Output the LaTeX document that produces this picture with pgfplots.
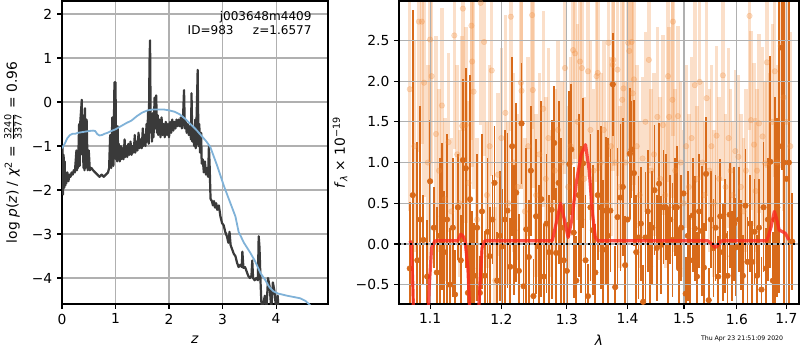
\documentclass[border=0pt]{standalone}
\usepackage{fontspec}
\setmainfont{DejaVu Sans}
\usepackage{pgfplots}
\pgfplotsset{compat=1.18}
\usepackage{pgfplotstable}
\definecolor{darkor}{RGB}{216,106,26}
\definecolor{lightor}{RGB}{240,140,60}
\definecolor{gridc}{RGB}{176,176,176}
\definecolor{blk}{RGB}{58,58,58}
\definecolor{blu}{RGB}{128,178,216}
\definecolor{redm}{RGB}{250,40,30}

\pgfplotstableread{
x y
0.00 -2.05
0.01 -1.00
0.02 -2.10
0.03 -1.20
0.04 -1.95
0.05 -1.35
0.06 -1.90
0.07 -1.75
0.08 -1.85
0.10 -1.60
0.12 -1.80
0.14 -1.65
0.16 -1.70
0.18 -1.60
0.20 -1.65
0.22 -1.55
0.24 -1.60
0.27 -1.10
0.28 -1.55
0.29 -1.20
0.30 -1.50
0.32 -0.50
0.33 -1.45
0.34 -0.48
0.37 0.05
0.38 -1.20
0.39 -0.30
0.40 -1.50
0.41 -0.90
0.42 -1.55
0.43 -0.14
0.44 -1.50
0.46 -0.40
0.48 -1.55
0.50 -1.10
0.52 -1.55
0.55 -1.50
0.58 -1.55
0.62 -1.60
0.66 -1.65
0.70 -1.70
0.74 -1.65
0.78 -1.70
0.82 -1.65
0.86 -1.60
0.88 -1.50
0.90 -0.75
0.92 -1.50
0.94 -0.35
0.96 -1.45
0.98 0.45
0.99 -0.60
1.00 0.45
1.01 -1.30
1.02 -0.90
1.03 -1.35
1.04 -0.55
1.05 -1.30
1.06 -0.95
1.08 -1.35
1.10 -1.00
1.11 -1.30
1.13 -1.05
1.15 -1.30
1.17 -0.85
1.18 -1.25
1.20 -1.00
1.22 -1.25
1.24 -0.95
1.26 -1.20
1.28 -0.90
1.30 -1.20
1.32 -1.00
1.34 -1.15
1.36 -0.75
1.37 -1.15
1.39 -0.90
1.41 -1.10
1.43 -0.70
1.45 -1.05
1.47 -0.85
1.49 -1.05
1.51 -0.60
1.52 -1.00
1.54 -0.75
1.56 -1.00
1.58 -0.50
1.59 -0.90
1.61 -0.20
1.62 -0.95
1.635 0.90
1.645 1.40
1.655 -0.20
1.66 -0.70
1.67 -0.30
1.68 -0.90
1.70 -0.25
1.71 -0.80
1.73 0.10
1.745 -0.60
1.76 0.15
1.775 -0.70
1.79 -0.30
1.80 -0.75
1.82 -0.40
1.84 -0.80
1.86 -0.35
1.88 -0.75
1.90 -0.50
1.92 -0.80
1.94 -0.45
1.96 -0.75
1.98 -0.50
2.00 -0.80
2.02 -0.45
2.04 -0.70
2.06 -0.40
2.08 -0.65
2.10 -0.45
2.12 -0.60
2.14 -0.40
2.16 -0.55
2.18 -0.40
2.20 -0.55
2.22 -0.35
2.24 -0.60
2.26 -0.40
2.28 0.27
2.295 -0.60
2.31 -0.45
2.33 -0.70
2.35 -0.50
2.37 -0.75
2.39 -0.55
2.41 -0.85
2.42 0.20
2.435 -0.90
2.45 -0.60
2.47 -1.00
2.49 -0.40
2.50 -1.05
2.52 -0.10
2.535 0.73
2.55 -1.00
2.565 -0.50
2.58 -1.15
2.60 -0.70
2.61 -1.40
2.63 -1.30
2.65 -1.60
2.67 -1.35
2.69 -1.65
2.71 -1.50
2.73 -1.70
2.745 -1.00
2.76 -1.50
2.775 -2.20
2.80 -2.25
2.82 -2.35
2.84 -2.25
2.86 -2.40
2.88 -2.30
2.90 -2.45
2.93 -2.35
2.96 -2.60
2.99 -2.75
3.02 -2.80
3.05 -2.95
3.08 -3.05
3.11 -3.20
3.13 -2.95
3.15 -3.25
3.18 -3.35
3.21 -3.45
3.24 -3.50
3.27 -3.65
3.30 -3.75
3.33 -3.70
3.36 -3.75
3.37 -3.40
3.39 -3.77
3.42 -3.75
3.45 -3.85
3.48 -3.95
3.51 -4.00
3.54 -3.95
3.555 -3.60
3.57 -4.00
3.60 -4.05
3.63 -4.00
3.66 -4.05
3.675 -3.05
3.69 -3.30
3.71 -4.10
3.73 -4.70
3.76 -4.60
3.79 -4.40
3.82 -4.70
3.85 -4.00
3.88 -4.20
3.91 -4.70
3.94 -4.10
3.97 -4.30
4.00 -4.70
4.03 -4.40
4.05 -4.80
}\pzdata

\pgfplotstableread{
x y
0.00 -1.05
0.05 -0.95
0.10 -0.82
0.15 -0.75
0.20 -0.72
0.25 -0.72
0.30 -0.70
0.40 -0.68
0.50 -0.66
0.58 -0.65
0.62 -0.66
0.66 -0.73
0.70 -0.76
0.75 -0.75
0.80 -0.72
0.85 -0.70
0.90 -0.67
1.00 -0.62
1.10 -0.55
1.20 -0.48
1.30 -0.42
1.40 -0.32
1.50 -0.24
1.60 -0.19
1.70 -0.17
1.80 -0.17
1.90 -0.17
2.00 -0.19
2.10 -0.22
2.20 -0.28
2.30 -0.38
2.40 -0.50
2.50 -0.62
2.60 -0.76
2.70 -0.90
2.77 -1.02
2.90 -1.45
3.02 -1.89
3.10 -2.15
3.24 -2.60
3.30 -2.95
3.40 -3.20
3.52 -3.43
3.60 -3.60
3.71 -3.89
3.80 -4.05
3.87 -4.20
3.95 -4.30
4.03 -4.35
4.20 -4.40
4.45 -4.46
4.55 -4.52
4.62 -4.60
4.70 -4.70
}\pzfit

\pgfplotstableread{
x y e
1.073 -0.30 0.82
1.077 0.60 2.27
1.083 -0.20 1.45
1.087 0.30 1.40
1.091 0.05 0.55
1.096 -0.40 0.70
1.100 0.77 0.75
1.105 0.20 0.50
1.109 -0.35 0.80
1.113 0.10 0.95
1.116 0.34 0.90
1.119 -0.10 0.75
1.123 0.30 1.05
1.127 -0.50 0.70
1.131 0.20 0.85
1.134 -0.62 0.55
1.138 0.45 0.65
1.142 -0.20 0.55
1.145 1.03 1.00
1.149 0.93 1.23
1.152 -0.60 0.60
1.155 0.55 1.52
1.158 -0.30 0.70
1.161 -0.39 0.65
1.165 0.20 0.90
1.169 -0.60 0.45
1.172 0.40 0.95
1.176 -0.39 0.55
1.180 0.15 0.90
1.183 -0.15 0.60
1.187 0.30 0.55
1.190 0.75 0.70
1.194 -0.45 0.60
1.198 0.10 0.80
1.201 -0.03 0.70
1.205 0.30 1.10
1.209 0.41 0.95
1.213 -0.28 0.60
1.216 1.20 1.10
1.219 0.17 0.80
1.222 0.63 1.10
1.226 -0.33 0.70
1.230 1.48 0.74
1.233 -0.52 0.50
1.237 0.18 1.00
1.241 -0.16 0.70
1.244 0.90 0.80
1.248 -0.64 0.45
1.252 0.34 0.95
1.256 -0.03 0.75
1.260 0.55 1.20
1.264 -0.40 0.65
1.268 0.25 0.85
1.272 -0.10 0.70
1.276 0.42 1.10
1.280 1.24 0.70
1.283 -0.11 0.80
1.287 0.75 1.00
1.291 0.20 1.10
1.295 -0.20 0.70
1.300 -0.33 0.60
1.304 0.98 0.90
1.307 1.16 0.80
1.311 0.14 0.80
1.315 -0.45 0.55
1.319 0.60 1.00
1.323 0.30 0.90
1.326 0.99 0.80
1.330 -0.20 0.80
1.334 -0.64 0.40
1.338 0.45 0.90
1.342 0.17 0.80
1.346 -0.35 0.60
1.350 0.60 0.80
1.355 0.45 1.00
1.359 -0.07 0.85
1.363 0.41 0.90
1.367 0.10 1.20
1.371 0.41 0.75
1.375 1.96 0.63
1.379 -0.53 0.50
1.383 0.33 0.85
1.388 0.57 0.90
1.392 0.70 0.85
1.396 -0.26 0.60
1.400 0.30 0.75
1.404 1.11 0.80
1.407 1.16 0.60
1.411 0.87 0.90
1.415 -0.10 0.70
1.419 0.08 0.75
1.423 0.25 0.70
1.427 -0.71 0.45
1.431 0.08 0.80
1.435 0.40 0.75
1.439 -0.28 0.55
1.443 0.20 0.70
1.447 0.66 0.80
1.451 -0.05 0.65
1.455 0.74 0.75
1.459 -0.01 0.60
1.463 0.45 0.70
1.467 0.45 0.65
1.471 -0.14 0.60
1.475 0.30 0.55
1.479 0.05 0.70
1.483 0.45 0.60
1.487 0.45 0.75
1.491 -0.30 0.50
1.495 0.20 0.65
1.499 0.62 0.70
1.503 -0.61 0.45
1.507 0.10 0.80
1.511 -0.20 0.55
1.516 0.35 0.70
1.520 0.19 0.65
1.524 -0.40 0.55
1.528 0.40 0.70
1.533 0.16 0.80
1.537 -0.29 0.55
1.541 0.86 0.70
1.546 -0.69 0.40
1.550 0.30 0.60
1.555 -0.05 0.60
1.559 0.20 0.65
1.564 -0.40 0.50
1.568 0.34 0.70
1.573 -0.10 0.60
1.577 0.10 0.70
1.582 -0.39 0.55
1.586 0.36 0.65
1.590 -0.15 0.55
1.595 0.25 0.70
1.599 -0.04 0.60
1.604 0.30 0.65
1.608 -0.01 0.55
1.612 -0.39 0.50
1.617 0.47 0.70
1.621 -0.22 0.55
1.626 0.25 0.60
1.630 -0.22 0.50
1.635 0.15 0.65
1.640 -0.39 0.50
1.644 0.20 0.60
1.649 -0.56 0.40
1.653 0.45 0.80
1.658 -0.30 0.50
1.662 0.30 0.75
1.667 1.01 1.30
1.672 -0.45 0.60
1.676 0.30 1.50
1.681 0.45 1.10
1.685 1.20 1.80
1.690 2.41 1.50
1.695 1.00 2.20
1.700 0.80 2.50
1.705 1.00 2.50
1.712 0.03 0.60
}\darkdata

\pgfplotstableread{
x y e
1.073 1.90 1.50
1.079 1.20 1.30
1.085 2.73 1.60
1.089 2.73 1.50
1.092 1.98 1.40
1.097 1.00 1.20
1.100 2.51 1.50
1.102 2.06 1.30
1.108 1.35 1.20
1.112 0.90 1.00
1.116 1.70 1.20
1.120 0.55 1.00
1.125 1.25 1.10
1.129 0.40 0.90
1.133 2.56 1.40
1.137 1.10 1.10
1.140 0.50 0.90
1.144 1.45 1.10
1.145 2.89 1.50
1.149 1.46 1.20
1.153 0.75 1.00
1.157 2.68 1.40
1.158 2.24 1.30
1.160 1.87 1.20
1.165 0.30 1.00
1.170 2.96 1.50
1.175 2.48 1.40
1.179 0.60 0.90
1.183 1.20 1.00
1.186 2.13 1.30
1.191 -0.45 0.90
1.195 0.85 1.00
1.200 1.30 1.10
1.206 1.61 1.20
1.210 0.50 1.00
1.214 2.79 1.40
1.218 1.00 1.10
1.224 0.70 0.90
1.229 1.98 1.30
1.230 1.88 1.20
1.235 0.40 0.90
1.240 1.20 1.10
1.246 2.81 1.40
1.247 1.89 1.20
1.252 0.60 1.00
1.257 1.10 1.00
1.263 1.66 1.20
1.267 0.80 1.00
1.271 1.30 1.10
1.276 0.50 0.90
1.281 0.90 1.00
1.286 1.40 1.10
1.292 1.00 1.00
1.297 2.16 1.30
1.302 0.70 1.00
1.306 1.20 1.10
1.310 2.38 1.40
1.313 2.34 1.30
1.317 1.50 1.20
1.321 2.24 1.30
1.324 2.16 1.30
1.328 0.80 1.00
1.334 2.12 1.30
1.338 1.40 1.10
1.343 0.90 1.00
1.348 2.06 1.30
1.350 2.10 1.20
1.355 1.00 1.10
1.360 1.40 1.10
1.364 0.50 1.00
1.368 2.47 1.40
1.372 1.20 1.10
1.375 2.20 1.30
1.376 2.26 1.30
1.380 1.00 1.00
1.383 2.14 1.30
1.387 0.70 1.00
1.391 1.77 1.20
1.393 1.91 1.20
1.397 1.00 1.00
1.401 2.47 1.40
1.403 2.37 1.30
1.407 2.48 1.40
1.409 1.85 1.20
1.411 2.02 1.30
1.416 1.20 1.00
1.421 0.60 0.90
1.426 1.05 1.00
1.431 1.50 1.10
1.437 2.26 1.30
1.441 0.90 1.00
1.446 1.10 1.00
1.452 1.56 1.10
1.457 0.80 1.00
1.462 1.46 1.10
1.466 0.60 0.90
1.471 2.06 1.30
1.473 1.56 1.10
1.479 1.77 1.20
1.480 2.73 1.40
1.484 0.90 1.00
1.489 1.57 1.10
1.494 1.00 1.00
1.499 0.50 0.90
1.504 1.20 1.00
1.509 0.70 0.90
1.514 1.30 1.00
1.520 1.95 1.20
1.524 0.80 0.90
1.529 1.99 1.20
1.534 1.00 1.00
1.538 0.60 0.90
1.542 1.79 1.20
1.547 0.90 1.00
1.551 1.20 1.00
1.556 0.50 0.90
1.561 1.33 1.10
1.566 0.80 1.00
1.573 2.07 1.30
1.578 0.70 0.90
1.584 1.30 1.10
1.588 0.90 1.00
1.592 0.60 0.90
1.597 1.14 1.00
1.603 1.07 1.00
1.608 0.70 0.90
1.613 0.40 0.90
1.618 0.90 1.00
1.625 2.80 1.40
1.628 1.52 1.10
1.634 1.22 1.00
1.637 0.65 0.90
1.640 0.90 1.00
1.644 1.48 1.10
1.651 1.32 1.10
1.656 0.99 1.00
1.660 2.23 1.30
1.665 1.00 1.10
1.671 1.50 1.20
1.676 2.12 1.30
1.681 1.00 1.20
1.688 2.43 1.50
1.694 1.80 1.40
1.700 1.50 1.50
1.708 1.20 1.40
}\lightdata

\pgfplotsset{
  mystyle/.style={
    scale only axis,
    height=218.98pt,
    axis line style={line width=0.8pt},
    tick align=outside,
    major tick length=3.5pt,
    tick style={black, line width=0.8pt},
    xtick pos=left, ytick pos=left,
    grid=major,
    grid style={gridc, line width=0.8pt},
    ticklabel style={font=\fontsize{10}{12}\selectfont},
    label style={font=\fontsize{10}{12}\selectfont},
  }
}

\begin{document}
\begin{tikzpicture}
\path[use as bounding box] (0,0) rectangle (578.16pt,252.94pt);

\begin{axis}[mystyle,
  at={(44.81pt,33.24pt)}, anchor=south west,
  width=192.24pt,
  xmin=0, xmax=4.97, ymin=-4.59, ymax=2.295,
  xtick={0,1,2,3,4}, xticklabels={0,1,2,3,4},
  ytick={-4,-3,-2,-1,0,1,2},
  yticklabels={−4,−3,−2,−1,0,1,2},
  xlabel={\textit{z}},
  ylabel={log \textit{p}(\textit{z}) / \textit{χ}\textsuperscript{2} = $\frac{\mbox{\scriptsize 3240}}{\mbox{\scriptsize 3377}}$ = 0.96},
  xlabel style={at={(axis description cs:0.5,-0.119)}, anchor=center},
  ylabel style={at={(axis description cs:-0.184,0.5)}, anchor=center},
]
\addplot[blk, line width=1.6pt, line join=round] table[x=x,y=y] {\pzdata};
\addplot[blu, line width=1.3pt] table[x=x,y=y] {\pzfit};
\node[anchor=north east, align=right, inner sep=0pt, font=\fontsize{8.7}{10.3}\selectfont]
  at (axis description cs:0.939,0.968) {j003648m4409\\ID=983\hspace{14pt}z=1.6577};
\end{axis}

\begin{axis}[xmode=log, mystyle,
  at={(288.36pt,33.24pt)}, anchor=south west,
  width=289.08pt,
  xmin=1.059, xmax=1.7264, ymin=-0.737, ymax=2.983,
  xtick={1.1,1.2,1.3,1.4,1.5,1.6,1.7},
  xticklabels={1.1,1.2,1.3,1.4,1.5,1.6,1.7},
  minor xtick={},
  ytick={-0.5,0,0.5,1,1.5,2,2.5},
  yticklabels={−0.5,0.0,0.5,1.0,1.5,2.0,2.5},
  axis on top,
  xlabel={\textit{λ}},
  ylabel={\textit{f}\textsubscript{\textit{λ}} × 10\textsuperscript{−19}},
  xlabel style={at={(axis description cs:0.5,-0.119)}, anchor=center},
  ylabel style={at={(axis description cs:-0.1475,0.5)}, anchor=center},
]
\addplot[only marks, mark=*, mark size=2pt, color=lightor, opacity=0.28,
  error bars/.cd, y dir=both, y explicit, error mark=none,
  error bar style={line width=2.5pt, color=lightor, opacity=0.28}]
  table[x=x, y=y, y error=e] {\lightdata};
\addplot[only marks, mark=*, mark size=2pt, color=darkor,
  error bars/.cd, y dir=both, y explicit, error mark=none,
  error bar style={line width=1.3pt, color=darkor}]
  table[x=x, y=y, y error=e] {\darkdata};
\end{axis}

\begin{axis}[xmode=log, hide axis, scale only axis,
  at={(288.36pt,33.24pt)}, anchor=south west,
  width=289.08pt, height=218.98pt,
  xmin=1.059, xmax=1.7264, ymin=-0.737, ymax=2.983]
\addplot[redm, line width=2.3pt, opacity=0.8, line join=round] coordinates {
(1.0735,0.04) (1.0750,0.0) (1.0770,-0.5) (1.0790,-1.2)
(1.0960,-1.2) (1.0990,-0.5) (1.1020,-0.05) (1.1060,0.03) (1.1080,0.04)
(1.1380,0.04) (1.1420,0.12) (1.1450,0.10) (1.1480,0.04) (1.1520,-0.3)
(1.1550,-0.9) (1.1650,-1.2) (1.1690,-0.5) (1.1720,-0.05) (1.1760,0.04)
(1.2770,0.04) (1.2830,0.25) (1.2900,0.50) (1.2960,0.30) (1.3020,0.08)
(1.3080,0.3) (1.3150,0.75) (1.3230,1.1) (1.3300,1.22) (1.3360,0.9)
(1.3410,0.4) (1.3460,0.08) (1.3500,0.04) (1.5440,0.04) (1.5520,0.0)
(1.5570,-0.04) (1.5620,-0.03) (1.5680,0.03) (1.5720,0.04) (1.6600,0.04)
(1.6680,0.20) (1.6750,0.40) (1.6800,0.30) (1.6850,0.17) (1.6920,0.15)
(1.6980,0.13) (1.7050,0.05)};
\addplot[black, line width=1.3pt, dash pattern=on 1.3pt off 2.6pt] coordinates {(1.059,0) (1.7264,0)};
\end{axis}

\node[font=\fontsize{4.5}{5}\selectfont] at (536.3pt,7.95pt) {Thu Apr 23 21:51:09 2020};
\end{tikzpicture}
\end{document}
